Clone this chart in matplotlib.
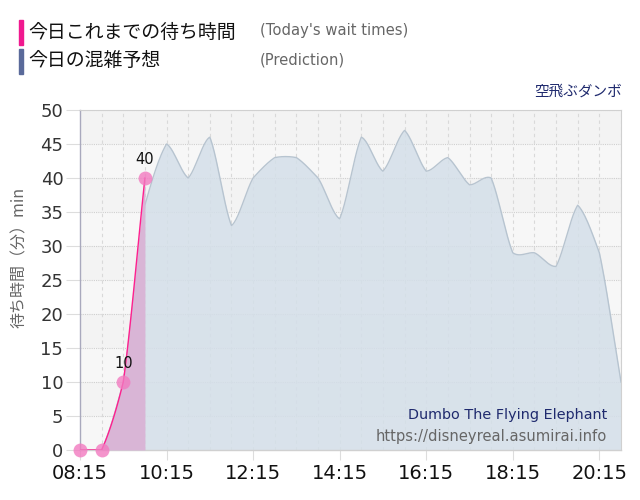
import numpy as np
import matplotlib
matplotlib.use("Agg")
import matplotlib.pyplot as plt
from matplotlib.patches import Rectangle

# ---- data ----
times = ["08:15", "08:45", "09:15", "09:45", "10:15", "10:45", "11:15", "11:45",
         "12:15", "12:45", "13:15", "13:45", "14:15", "14:45", "15:15", "15:45",
         "16:15", "16:45", "17:15", "17:45", "18:15", "18:45", "19:15", "19:45",
         "20:15", "20:45"]
prediction = [0, 0, 10, 36, 45, 40, 46, 33, 40, 43, 43, 40, 34, 46, 41, 47,
              41, 43, 39, 40, 29, 29, 27, 36, 29, 10]
actual_times = ["08:15", "08:45", "09:15", "09:45"]
actual = [0, 0, 10, 40]
label_points = {"09:15": 10, "09:45": 40}
xtick_labels = ["08:15", "10:15", "12:15", "14:15", "16:15", "18:15", "20:15"]
yticks = [0, 5, 10, 15, 20, 25, 30, 35, 40, 45, 50]

plt.rcParams['font.family'] = ['DejaVu Sans', 'Noto Sans CJK JP']
CJK = ['Noto Sans CJK JP', 'DejaVu Sans']


def to_h(t):
    h, m = t.split(":")
    return int(h) + int(m) / 60.0


def smooth(x, y, n=24):
    """Hermite curve whose end tangents mix the central and one-sided slopes."""
    x = np.asarray(x, float)
    y = np.asarray(y, float)
    seg = np.diff(y) / np.diff(x)
    cen = np.zeros_like(y)
    for i in range(1, len(y) - 1):
        cen[i] = (y[i + 1] - y[i - 1]) / (x[i + 1] - x[i - 1])
    xs, ys = [], []
    for i in range(len(y) - 1):
        h = x[i + 1] - x[i]
        m0 = 0.4 * cen[i] + 0.5 * seg[i] if i > 0 else 0.0
        m1 = 0.4 * cen[i + 1] + 0.5 * seg[i] if i + 1 < len(y) - 1 else seg[i]
        t = np.linspace(0, 1, n, endpoint=(i == len(y) - 2))
        h00 = 2 * t**3 - 3 * t**2 + 1
        h10 = t**3 - 2 * t**2 + t
        h01 = -2 * t**3 + 3 * t**2
        h11 = t**3 - t**2
        xs.append(x[i] + t * h)
        ys.append(h00 * y[i] + h10 * h * m0 + h01 * y[i + 1] + h11 * h * m1)
    return np.concatenate(xs), np.clip(np.concatenate(ys), 0, None)


px = [to_h(t) for t in times]
ax_x = [to_h(t) for t in actual_times]

fig = plt.figure(figsize=(6.4, 5.0), dpi=100)
ax = fig.add_axes([80 / 640, 50 / 500, 541 / 640, 340 / 500])

# background bands
for i, lo in enumerate(yticks[:-1]):
    ax.axhspan(lo, lo + 5, color="#f3f3f3" if i % 2 == 1 else "#f7f7f7", zorder=0, lw=0)

# grid
for y in yticks[1:]:
    ax.axhline(y, color="#cfcfcf", lw=0.8, ls=(0, (1, 1)), zorder=1)
x0, x1 = px[0], px[-1]
for xv in px[1:]:
    ax.axvline(xv, color="#d9d9d9", lw=0.8, ls=(0, (3, 3)), zorder=1)

# prediction area
sx, sy = smooth(px, prediction)
ax.fill_between(sx, 0, sy, color="#d4dfe9", alpha=0.85, lw=0, zorder=2)
ax.plot(sx, sy, color="#b7c4d0", lw=1.0, zorder=3)

# actual area
axs, ays = smooth(ax_x, actual)
ax.fill_between(axs, 0, ays, color="#d9b5d6", lw=0, zorder=4)
ax.plot(axs, ays, color="#ff1f8e", lw=1.0, zorder=5)
ax.scatter(ax_x, actual, s=100, color="#f27ac0", alpha=0.8, lw=0, zorder=6, clip_on=False)
for t, v in label_points.items():
    ax.annotate(str(v), (to_h(t), v), xytext=(0, 8), textcoords="offset points",
                ha="center", va="bottom", fontsize=10.5, color="#111111", zorder=7)

ax.set_xlim(x0, x1)
ax.set_ylim(0, 50)
ax.set_yticks(yticks)
ax.set_yticklabels([str(v) for v in yticks])
ax.set_xticks([to_h(t) for t in xtick_labels])
ax.set_xticklabels(xtick_labels)
ax.tick_params(axis="y", length=10, color="#dddddd", labelsize=13, labelcolor="#333333", pad=2)
ax.tick_params(axis="x", length=7, color="#dddddd", labelsize=14, labelcolor="#111111", pad=3)

for s in ["top", "right"]:
    ax.spines[s].set_color("#d0d0d0")
    ax.spines[s].set_linestyle((0, (1, 1)))
    ax.spines[s].set_linewidth(0.8)
ax.spines["left"].set_color("#a9a9bd")
ax.spines["left"].set_linewidth(1.0)
ax.spines["bottom"].set_color("#d0d0d0")
ax.spines["bottom"].set_linewidth(1.0)

ax.set_ylabel("待ち時間（分）min", family=CJK, fontsize=11.5, color="#666666")
ax.yaxis.set_label_coords(-0.097, 0.565)

# watermark text
ax.text(0.975, 0.103, "Dumbo The Flying Elephant", transform=ax.transAxes, ha="right",
        va="center", fontsize=10.4, color="#1f2a6e", zorder=8)
ax.text(0.975, 0.04, "https://disneyreal.asumirai.info", transform=ax.transAxes, ha="right",
        va="center", fontsize=10.6, color="#666666", zorder=8)

# legend-like header
fig.patches.append(Rectangle((19 / 640, 1 - 45 / 500), 4 / 640, 25 / 500,
                             transform=fig.transFigure, color="#f0198f"))
fig.patches.append(Rectangle((19 / 640, 1 - 74 / 500), 4 / 640, 25 / 500,
                             transform=fig.transFigure, color="#5a6a9a"))
fig.text(28 / 640, 1 - 32 / 500, "今日これまでの待ち時間", family=CJK, fontsize=13.6,
         color="#111111", va="center", ha="left")
fig.text(260 / 640, 1 - 31 / 500, "(Today's wait times)", fontsize=10.6, color="#666666",
         va="center", ha="left")
fig.text(28 / 640, 1 - 61 / 500, "今日の混雑予想", family=CJK, fontsize=13.6,
         color="#111111", va="center", ha="left")
fig.text(260 / 640, 1 - 60 / 500, "(Prediction)", fontsize=10.6, color="#666666",
         va="center", ha="left")
fig.text(622 / 640, 1 - 92 / 500, "空飛ぶダンボ", family=CJK, fontsize=10.5,
         color="#1f2a6e", va="center", ha="right")

fig.savefig("out.png", dpi=100)
